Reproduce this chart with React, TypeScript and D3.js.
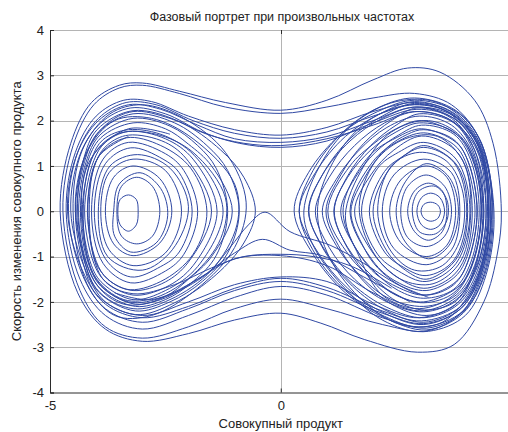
import React, { useEffect, useRef } from 'react';
import * as d3 from 'd3';

type Pt = [number, number];

const title = 'Фазовый портрет при произвольных частотах';
const xLabel = 'Совокупный продукт';
const yLabel = 'Скорость изменения совокупного продукта';

const xTicks = [-5, 0, 5];
const yTicks = [-4, -3, -2, -1, 0, 1, 2, 3, 4];

// loops around the left well (x ≈ -3.2)
const leftLoops: Pt[][] = [
  [[-3.53, 0], [-3.48, 0.26], [-3.3, 0.36], [-3.13, 0.26], [-3.09, 0], [-3.13, -0.3], [-3.3, -0.44], [-3.48, -0.3]],
  [[-3.55, 0], [-3.45, 0.55], [-3.12, 0.75], [-2.78, 0.55], [-2.62, 0], [-2.78, -0.55], [-3.12, -0.72], [-3.45, -0.55]],
  [[-3.62, 0], [-3.5, 0.6], [-3.05, 0.85], [-2.6, 0.5], [-2.45, -0.1], [-2.7, -0.7], [-3.25, -0.9], [-3.6, -0.55]],
  [[-3.8, 0], [-3.62, 0.75], [-3.2, 1.0], [-2.62, 0.72], [-2.36, 0], [-2.62, -0.7], [-3.2, -0.98], [-3.62, -0.72]],
  [[-3.9, 0], [-3.72, 0.85], [-3.2, 1.15], [-2.5, 0.9], [-2.15, 0], [-2.5, -0.92], [-3.2, -1.2], [-3.72, -0.85]],
  [[-3.95, 0.1], [-3.7, 1.0], [-3.1, 1.25], [-2.4, 0.95], [-2.0, 0.1], [-2.35, -0.85], [-3.0, -1.3], [-3.75, -1.0]],
  [[-4.04, 0], [-3.8, 1.05], [-3.25, 1.4], [-2.55, 1.15], [-2.2, 0.85], [-1.92, 0], [-2.2, -0.9], [-2.6, -1.22], [-3.25, -1.45], [-3.8, -1.05]],
  [[-4.1, 0], [-3.85, 1.15], [-3.3, 1.52], [-2.5, 1.27], [-2.1, 0.9], [-1.8, 0], [-2.1, -0.95], [-2.5, -1.32], [-3.25, -1.58], [-3.85, -1.15]],
  [[-4.15, 0], [-3.95, 1.2], [-3.35, 1.62], [-2.6, 1.45], [-1.95, 0.95], [-1.6, 0], [-1.9, -0.95], [-2.6, -1.55], [-3.35, -1.72], [-3.95, -1.25]],
  [[-4.19, 0], [-4.0, 1.1], [-3.75, 1.47], [-3.3, 1.68], [-2.5, 1.52], [-2.0, 1.1], [-1.5, 0], [-2.0, -1.12], [-2.5, -1.56], [-3.2, -1.75], [-3.75, -1.5], [-4.0, -1.1]],
  [[-4.25, 0], [-4.05, 1.12], [-3.8, 1.52], [-3.3, 1.76], [-2.5, 1.6], [-1.9, 1.15], [-1.38, 0], [-1.9, -1.2], [-2.5, -1.68], [-3.2, -1.85], [-3.8, -1.55], [-4.05, -1.15]],
  [[-4.28, 0], [-4.05, 1.25], [-3.5, 1.72], [-2.7, 1.7], [-1.9, 1.3], [-1.2, 0.3], [-1.3, -0.6], [-1.9, -1.4], [-2.7, -1.9], [-3.4, -1.95], [-4.05, -1.4]],
  [[-4.3, 0], [-4.1, 1.15], [-3.85, 1.58], [-3.3, 1.8], [-2.5, 1.66], [-1.8, 1.15], [-1.25, 0], [-1.8, -1.22], [-2.5, -1.75], [-3.2, -1.95], [-3.85, -1.6], [-4.1, -1.2]],
  [[-4.34, 0], [-4.2, 1.04], [-3.9, 1.62], [-3.2, 1.95], [-2.5, 1.82], [-2.0, 1.48], [-1.5, 1.0], [-1.05, 0], [-1.5, -1.0], [-2.0, -1.5], [-2.5, -1.88], [-3.15, -2.05], [-3.9, -1.65], [-4.2, -1.05]],
  [[-4.38, 0], [-4.22, 1.08], [-3.92, 1.68], [-3.2, 2.05], [-2.4, 1.88], [-1.8, 1.45], [-1.4, 0.95], [-1.15, 0], [-1.4, -0.98], [-1.9, -1.55], [-2.5, -1.95], [-3.15, -2.1], [-3.92, -1.7], [-4.22, -1.1]],
  [[-4.4, 0], [-4.2, 1.3], [-3.6, 2.0], [-2.8, 2.05], [-1.9, 1.6], [-1.0, 0.6], [-0.95, -0.3], [-1.5, -1.3], [-2.4, -1.95], [-3.2, -2.15], [-4.0, -1.7]],
  [[-4.42, 0], [-4.25, 1.1], [-3.95, 1.75], [-3.2, 2.15], [-2.3, 1.95], [-1.6, 1.45], [-1.15, 0.9], [-0.9, 0], [-1.15, -0.92], [-1.7, -1.55], [-2.4, -2.0], [-3.15, -2.2], [-3.95, -1.78], [-4.25, -1.12]],
  [[-4.45, 0], [-4.28, 1.12], [-3.98, 1.8], [-3.2, 2.22], [-2.2, 1.98], [-1.3, 1.35], [-0.8, 0.75], [-0.55, 0], [-0.8, -0.7], [-1.4, -1.4], [-2.3, -2.02], [-3.15, -2.28], [-3.98, -1.85], [-4.28, -1.15]],
  [[-4.5, 0], [-4.3, 1.35], [-3.7, 2.15], [-3.0, 2.35], [-2.1, 2.05], [-1.2, 1.3], [-0.75, 0.2], [-1.0, -0.8], [-1.8, -1.7], [-2.8, -2.3], [-3.6, -2.3], [-4.2, -1.6]],
];

// loops around the right well (x ≈ 3.2)
const rightLoops: Pt[][] = [
  [[3.04, 0], [3.1, 0.15], [3.25, 0.2], [3.4, 0.14], [3.46, 0], [3.4, -0.16], [3.25, -0.22], [3.1, -0.15]],
  [[2.95, 0], [3.05, 0.3], [3.25, 0.4], [3.45, 0.3], [3.55, 0], [3.45, -0.3], [3.25, -0.4], [3.05, -0.3]],
  [[2.85, 0.05], [3.0, 0.45], [3.35, 0.55], [3.6, 0.25], [3.6, -0.2], [3.35, -0.5], [3.0, -0.45]],
  [[2.75, 0], [2.9, 0.45], [3.2, 0.62], [3.5, 0.45], [3.6, 0], [3.5, -0.45], [3.2, -0.64], [2.9, -0.45]],
  [[2.6, 0], [2.75, 0.55], [3.15, 0.8], [3.55, 0.55], [3.7, 0], [3.55, -0.55], [3.15, -0.78], [2.75, -0.58]],
  [[2.5, 0], [2.7, 0.65], [3.15, 1.05], [3.65, 0.75], [3.85, 0], [3.65, -0.75], [3.2, -1.05], [2.7, -0.68]],
  [[2.36, 0], [2.6, 0.69], [3.15, 1.0], [3.6, 0.75], [3.79, 0], [3.6, -0.75], [3.15, -1.0], [2.6, -0.69]],
  [[2.2, 0], [2.45, 0.8], [3.1, 1.15], [3.7, 0.85], [3.88, 0], [3.7, -0.85], [3.15, -1.18], [2.45, -0.82]],
  [[2.1, 0], [2.4, 1.0], [3.0, 1.3], [3.6, 1.1], [3.95, 0.4], [3.9, -0.6], [3.5, -1.2], [2.9, -1.3], [2.4, -0.9]],
  [[2.0, 0], [2.3, 0.85], [2.7, 1.25], [3.1, 1.45], [3.7, 1.15], [3.95, 0.75], [4.05, 0], [3.95, -0.75], [3.7, -1.18], [3.15, -1.5], [2.7, -1.3], [2.3, -0.88]],
  [[1.92, 0], [2.25, 0.88], [2.6, 1.18], [3.1, 1.41], [3.75, 1.08], [4.03, 0], [3.75, -1.08], [3.15, -1.42], [2.6, -1.2], [2.25, -0.9]],
  [[1.75, 0], [2.1, 0.95], [2.55, 1.3], [3.1, 1.52], [3.8, 1.15], [4.1, 0], [3.8, -1.15], [3.15, -1.55], [2.55, -1.32], [2.1, -0.95]],
  [[1.7, 0.1], [2.05, 1.1], [2.7, 1.6], [3.4, 1.65], [3.95, 1.1], [4.12, 0.1], [3.9, -1.1], [3.3, -1.6], [2.6, -1.5], [2.0, -0.9]],
  [[1.6, 0], [1.95, 0.8], [2.45, 1.35], [3.05, 1.66], [3.7, 1.42], [4.0, 1.0], [4.15, 0], [4.0, -1.0], [3.7, -1.45], [3.1, -1.7], [2.45, -1.4], [1.95, -0.85]],
  [[1.52, 0], [1.85, 0.8], [2.3, 1.4], [2.75, 1.7], [3.1, 1.8], [3.75, 1.58], [4.08, 1.05], [4.25, 0], [4.08, -1.05], [3.75, -1.62], [3.15, -1.85], [2.6, -1.65], [2.1, -1.25], [1.8, -0.8]],
  [[1.5, 0], [2.0, 1.1], [2.5, 1.52], [3.1, 1.73], [3.75, 1.47], [4.0, 1.1], [4.21, 0], [4.0, -1.1], [3.75, -1.47], [3.15, -1.75], [2.5, -1.55], [2.0, -1.1]],
  [[1.4, -0.1], [1.8, 1.0], [2.4, 1.75], [3.2, 2.0], [3.9, 1.65], [4.3, 0.7], [4.25, -0.8], [3.8, -1.8], [3.0, -2.15], [2.2, -1.85], [1.7, -1.0]],
  [[1.35, 0], [1.9, 1.2], [2.5, 1.62], [3.05, 1.82], [3.8, 1.52], [4.05, 1.12], [4.26, 0], [4.05, -1.12], [3.8, -1.55], [3.15, -1.85], [2.5, -1.66], [1.9, -1.22]],
  [[1.3, 0], [1.6, 0.72], [2.05, 1.3], [2.55, 1.68], [3.05, 1.9], [3.75, 1.7], [4.12, 1.12], [4.3, 0], [4.12, -1.12], [3.75, -1.72], [3.1, -1.92], [2.55, -1.75], [2.05, -1.35], [1.6, -0.78]],
  [[1.16, 0], [1.45, 0.78], [1.95, 1.45], [2.5, 1.9], [3.0, 2.15], [3.75, 1.95], [4.18, 1.3], [4.38, 0], [4.2, -1.25], [3.8, -1.98], [3.12, -2.18], [2.5, -1.98], [1.95, -1.5], [1.45, -0.82]],
  [[1.15, 0], [1.45, 0.75], [1.95, 1.35], [2.5, 1.75], [3.0, 1.95], [3.75, 1.75], [4.15, 1.15], [4.35, 0], [4.15, -1.15], [3.75, -1.8], [3.1, -2.02], [2.5, -1.85], [1.95, -1.4], [1.45, -0.8]],
  [[1.02, 0], [1.5, 1.0], [2.0, 1.48], [2.5, 1.82], [3.05, 2.0], [3.9, 1.62], [4.2, 1.04], [4.34, 0], [4.2, -1.04], [3.9, -1.62], [3.1, -2.0], [2.5, -1.85], [2.0, -1.5], [1.5, -1.0]],
  [[0.98, 0], [1.3, 0.8], [1.8, 1.5], [2.4, 2.0], [2.95, 2.28], [3.7, 2.05], [4.2, 1.35], [4.4, 0], [4.2, -1.3], [3.8, -2.05], [3.15, -2.3], [2.4, -2.05], [1.8, -1.55], [1.3, -0.85]],
  [[0.9, 0], [1.2, 0.7], [1.7, 1.35], [2.3, 1.85], [3.0, 2.1], [3.7, 1.9], [4.15, 1.3], [4.4, 0], [4.2, -1.2], [3.8, -1.85], [3.1, -2.1], [2.3, -1.9], [1.7, -1.4], [1.2, -0.75]],
  [[0.8, 0.1], [1.2, 1.2], [1.9, 2.0], [2.8, 2.35], [3.6, 2.2], [4.3, 1.3], [4.5, -0.2], [4.2, -1.6], [3.5, -2.45], [2.6, -2.5], [1.7, -1.9], [1.0, -0.9]],
  [[0.75, 0], [1.05, 0.75], [1.6, 1.45], [2.25, 1.95], [2.95, 2.2], [3.7, 2.0], [4.2, 1.35], [4.45, 0], [4.25, -1.25], [3.8, -1.95], [3.1, -2.22], [2.3, -2.0], [1.6, -1.5], [1.05, -0.8]],
  [[0.61, 0], [0.9, 0.8], [1.5, 1.6], [2.2, 2.1], [2.9, 2.38], [3.75, 2.12], [4.28, 1.42], [4.5, 0], [4.32, -1.32], [3.88, -2.12], [3.1, -2.45], [2.3, -2.2], [1.55, -1.65], [0.95, -0.88]],
  [[0.6, 0], [0.9, 0.8], [1.5, 1.55], [2.2, 2.05], [2.95, 2.3], [3.75, 2.05], [4.25, 1.4], [4.5, 0], [4.3, -1.3], [3.85, -2.05], [3.1, -2.35], [2.3, -2.12], [1.55, -1.6], [0.95, -0.85]],
  [[0.5, 0], [0.9, 1.1], [1.6, 1.95], [2.5, 2.42], [3.4, 2.4], [4.15, 1.8], [4.55, 0.6], [4.45, -1.0], [3.95, -2.2], [3.1, -2.65], [2.2, -2.4], [1.3, -1.6], [0.7, -0.75]],
  [[0.4, 0], [0.75, 0.85], [1.4, 1.65], [2.15, 2.15], [2.9, 2.42], [3.75, 2.15], [4.3, 1.45], [4.55, 0], [4.35, -1.35], [3.9, -2.15], [3.1, -2.5], [2.25, -2.25], [1.45, -1.7], [0.8, -0.9]],
  [[0.4, 0], [0.7, 0.9], [1.35, 1.75], [2.1, 2.28], [2.9, 2.5], [3.8, 2.22], [4.35, 1.5], [4.6, 0], [4.42, -1.4], [3.95, -2.22], [3.15, -2.58], [2.25, -2.32], [1.4, -1.75], [0.75, -0.95]],
  [[0.29, 0], [0.6, 0.85], [1.3, 1.7], [2.1, 2.2], [2.9, 2.45], [3.8, 2.2], [4.35, 1.5], [4.58, 0], [4.4, -1.4], [3.95, -2.25], [3.15, -2.62], [2.25, -2.35], [1.4, -1.8], [0.7, -0.95]],
];

// orbits going round both wells
const crossLoops: Pt[][] = [
  [[-4.78, 0], [-4.55, 1.5], [-4.1, 2.4], [-3.5, 2.78], [-3.0, 2.83], [-2.2, 2.65], [-1.2, 2.4], [0, 2.23], [1.0, 2.45], [2.0, 2.9], [2.75, 3.16], [3.45, 3.07], [4.2, 2.45], [4.6, 1.5], [4.78, 0], [4.7, -0.9], [4.4, -2.0], [3.76, -2.94], [2.96, -3.11], [1.81, -2.83], [0.87, -2.47], [0, -2.25], [-1.0, -2.4], [-2.0, -2.7], [-3.0, -2.87], [-3.8, -2.6], [-4.4, -1.8]],
  [[-4.72, 0], [-4.5, 1.45], [-4.05, 2.35], [-3.5, 2.72], [-3.0, 2.78], [-2.2, 2.6], [-1.2, 2.3], [0, 2.16], [1.0, 2.3], [2.0, 2.5], [2.9, 2.6], [3.7, 2.35], [4.3, 1.6], [4.62, 0], [4.45, -1.4], [4.0, -2.3], [3.2, -2.65], [2.2, -2.5], [1.0, -2.15], [0, -1.94], [-1.0, -2.15], [-2.0, -2.55], [-3.0, -2.8], [-3.8, -2.55], [-4.35, -1.75]],
  [[-4.65, 0], [-4.45, 1.3], [-4.0, 2.1], [-3.4, 2.45], [-2.8, 2.42], [-2.0, 2.1], [-1.0, 1.8], [0, 1.68], [1.0, 1.85], [2.0, 2.2], [2.9, 2.4], [3.7, 2.2], [4.3, 1.5], [4.55, 0], [4.4, -1.3], [3.95, -2.2], [3.1, -2.55], [2.2, -2.35], [1.0, -1.85], [0, -1.66], [-1.0, -1.9], [-2.0, -2.3], [-3.0, -2.6], [-3.8, -2.3], [-4.35, -1.5]],
  [[-4.6, 0], [-4.4, 1.3], [-3.95, 2.05], [-3.35, 2.4], [-2.7, 2.35], [-1.9, 2.0], [-1.0, 1.72], [0, 1.61], [1.0, 1.75], [2.0, 2.1], [2.9, 2.35], [3.7, 2.15], [4.3, 1.45], [4.52, 0], [4.35, -1.3], [3.9, -2.15], [3.1, -2.48], [2.2, -2.25], [1.0, -1.75], [0, -1.55], [-1.0, -1.75], [-2.0, -2.15], [-3.0, -2.45], [-3.8, -2.15], [-4.3, -1.4]],
  [[-4.62, 0], [-4.42, 1.25], [-3.95, 2.0], [-3.3, 2.35], [-2.6, 2.25], [-1.8, 1.9], [-1.0, 1.6], [0, 1.52], [1.0, 1.65], [2.0, 2.0], [2.9, 2.3], [3.75, 2.1], [4.3, 1.4], [4.5, 0], [4.35, -1.25], [3.9, -2.1], [3.05, -2.42], [2.2, -2.2], [1.0, -1.68], [0, -1.48], [-1.0, -1.7], [-2.0, -2.1], [-3.0, -2.35], [-3.8, -2.05], [-4.3, -1.3]],
  [[-4.55, 0], [-4.35, 1.25], [-3.9, 1.95], [-3.25, 2.28], [-2.5, 2.15], [-1.7, 1.75], [-0.9, 1.5], [0, 1.41], [1.0, 1.55], [2.0, 1.95], [2.95, 2.25], [3.75, 2.05], [4.3, 1.4], [4.48, 0], [4.3, -1.2], [3.85, -2.0], [3.0, -2.35], [2.0, -2.05], [1.0, -1.55], [0, -1.45], [-1.0, -1.62], [-2.0, -2.0], [-3.0, -2.3], [-3.8, -2.0], [-4.25, -1.25]],
  [[-4.45, 0], [-4.25, 1.2], [-3.8, 1.9], [-3.2, 2.2], [-2.4, 2.05], [-1.6, 1.7], [-0.8, 1.5], [0, 1.45], [1.0, 1.6], [2.0, 1.9], [2.9, 2.2], [3.7, 2.0], [4.25, 1.35], [4.45, 0], [4.25, -1.2], [3.8, -1.9], [3.0, -2.2], [2.0, -1.8], [1.0, -1.2], [0, -0.98], [-1.0, -1.05], [-1.8, -1.5], [-2.6, -1.95], [-3.4, -2.05], [-4.0, -1.6]],
];

// open strands passing near the saddle
const strands: Pt[][] = [
  [[3.2, -1.9], [2.5, -1.6], [1.8, -1.15], [1.07, -0.75], [0.2, -0.45], [-0.34, -0.02], [-0.7, -0.3], [-1.1, -0.8], [-1.6, -1.38], [-2.5, -1.88], [-3.3, -2.0], [-4.0, -1.5], [-4.32, 0], [-4.12, 1.15], [-3.3, 1.82], [-2.4, 1.7]],
  [[2.8, -2.0], [1.8, -1.45], [0.9, -0.98], [0.2, -0.86], [-0.4, -0.62], [-1.0, -0.92], [-1.8, -1.5], [-2.8, -1.95], [-3.6, -1.8]],
  [[2.4, -1.7], [1.5, -1.2], [0.7, -1.0], [0, -0.95], [-0.8, -1.0], [-1.5, -1.25], [-2.3, -1.62], [-3.2, -1.82], [-3.85, -1.5], [-4.18, 0], [-3.95, 1.2], [-3.3, 1.65]],
];

const W = 508;
const H = 432;
const lineColor = '#2f48a3';
const font = 'Liberation Sans, Arial, sans-serif';

const App = () => {
  const ref = useRef<SVGSVGElement>(null);

  useEffect(() => {
    const svg = d3.select(ref.current);
    svg.selectAll('*').remove();

    const left = 50;
    const right = 511.5;
    const top = 30;
    const bottom = 392.5;

    const x = d3.scaleLinear().domain([-5, 5]).range([left, right]);
    const y = d3.scaleLinear().domain([-4, 4]).range([bottom, top]);

    svg.append('rect').attr('width', W).attr('height', H).attr('fill', '#fff');

    // grid
    const grid = svg.append('g').attr('stroke', '#b4b4b4').attr('stroke-width', 1);
    yTicks.filter(t => t > -4).forEach(t => {
      grid.append('line')
        .attr('x1', left).attr('x2', right)
        .attr('y1', Math.round(y(t)) + 0.5).attr('y2', Math.round(y(t)) + 0.5);
    });
    xTicks.filter(t => t > -5).forEach(t => {
      grid.append('line')
        .attr('y1', top).attr('y2', bottom)
        .attr('x1', Math.round(x(t)) + 0.5).attr('x2', Math.round(x(t)) + 0.5);
    });

    svg.append('clipPath').attr('id', 'plot-clip')
      .append('rect').attr('x', left).attr('y', top)
      .attr('width', right - left).attr('height', bottom - top);

    const plot = svg.append('g').attr('clip-path', 'url(#plot-clip)');

    const closed = d3.line<Pt>()
      .x(d => x(d[0]))
      .y(d => y(d[1]))
      .curve(d3.curveCatmullRomClosed.alpha(0.5));
    const open = d3.line<Pt>()
      .x(d => x(d[0]))
      .y(d => y(d[1]))
      .curve(d3.curveCatmullRom.alpha(0.5));

    [...leftLoops, ...rightLoops, ...crossLoops].forEach(loop => {
      plot.append('path')
        .attr('d', closed(loop))
        .attr('fill', 'none')
        .attr('stroke', lineColor)
        .attr('stroke-width', 1);
    });
    strands.forEach(s => {
      plot.append('path')
        .attr('d', open(s))
        .attr('fill', 'none')
        .attr('stroke', lineColor)
        .attr('stroke-width', 1);
    });

    // axes
    const yAxis = d3.axisLeft(y).tickValues(yTicks).tickSize(-4).tickPadding(6).tickFormat(d3.format('d'));
    const gy = svg.append('g').attr('transform', `translate(${left},0)`).call(yAxis);
    const xAxis = d3.axisBottom(x).tickValues(xTicks).tickSize(-4).tickPadding(8).tickFormat(d3.format('d'));
    const gx = svg.append('g').attr('transform', `translate(0,${bottom})`).call(xAxis);

    [gx, gy].forEach(g => {
      g.select('.domain').attr('stroke', '#2b2b2b');
      g.selectAll('.tick line').attr('stroke', '#2b2b2b');
      g.selectAll('.tick text')
        .attr('fill', '#222')
        .style('font-family', font)
        .style('font-size', '13px');
    });
    gy.selectAll('.tick text').text(d => String(d));
    gx.selectAll('.tick text').text(d => String(d));

    // top tick at x = 0
    svg.append('line')
      .attr('x1', Math.round(x(0)) + 0.5).attr('x2', Math.round(x(0)) + 0.5)
      .attr('y1', top).attr('y2', top + 4)
      .attr('stroke', '#2b2b2b');

    svg.append('text')
      .attr('x', 282).attr('y', 21)
      .attr('text-anchor', 'middle')
      .style('font-family', font).style('font-size', '12.5px')
      .attr('fill', '#222')
      .text(title);

    svg.append('text')
      .attr('x', x(0)).attr('y', 428)
      .attr('text-anchor', 'middle')
      .style('font-family', font).style('font-size', '13px')
      .attr('fill', '#222')
      .text(xLabel);

    svg.append('text')
      .attr('transform', `translate(21,${(top + bottom) / 2}) rotate(-90)`)
      .attr('text-anchor', 'middle')
      .style('font-family', font).style('font-size', '13px')
      .attr('fill', '#222')
      .text(yLabel);
  }, []);

  return (
    <svg
      ref={ref}
      width={W}
      height={H}
      style={{ position: 'absolute', left: 0, top: 0, display: 'block' }}
    />
  );
};

export default App;
